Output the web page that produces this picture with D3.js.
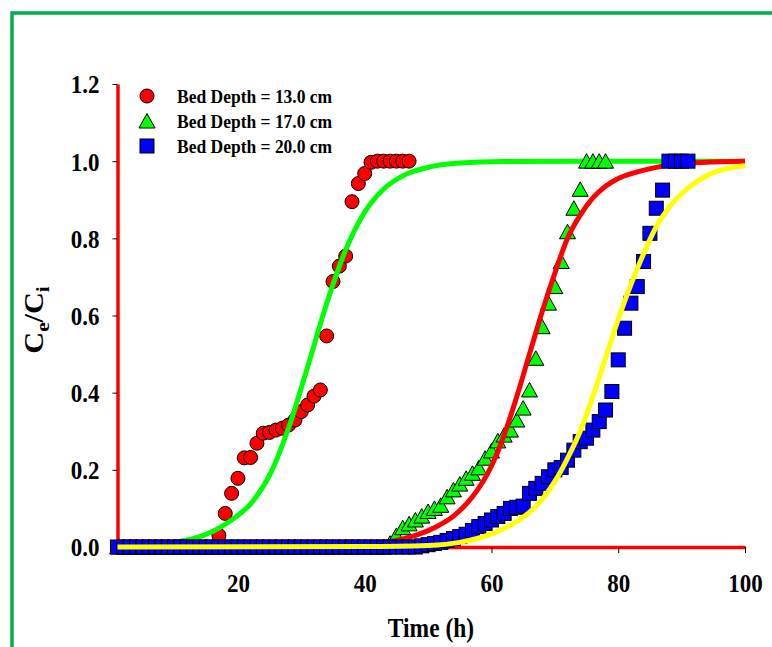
<!DOCTYPE html>
<html>
<head>
<meta charset="utf-8">
<script src="https://cdn.jsdelivr.net/npm/d3@7"></script>
<style>
  html, body { margin: 0; padding: 0; background: #fff; }
  svg { display: block; }
  text { font-family: "Liberation Serif", "Times New Roman", serif; font-weight: bold; fill: #000; }
</style>
</head>
<body>
<svg id="chart" width="772" height="647"></svg>
<script>
// hourly readings of Ce/Ci, first value at t = 1 h
const bed13 = [0, 0, 0, 0, 0, 0, 0, 0, 0, 0, 0, 0, 0, 0, 0, 0,
  0.03, 0.087, 0.139, 0.178, 0.231, 0.232, 0.269, 0.295, 0.297, 0.303, 0.308, 0.316,
  0.329, 0.351, 0.368, 0.391, 0.407, 0.547, 0.688, 0.728, 0.754, 0.895, 0.942, 0.968,
  0.997, 1.0, 1.0, 1.0, 1.0, 1.0, 1.0];

const bed17 = [0, 0, 0, 0, 0, 0, 0, 0, 0, 0, 0, 0, 0, 0, 0, 0, 0, 0, 0, 0,
  0, 0, 0, 0, 0, 0, 0, 0, 0, 0, 0, 0, 0, 0, 0, 0, 0, 0, 0, 0, 0, 0, 0,
  0.01, 0.03, 0.05, 0.06, 0.07, 0.08, 0.092, 0.1, 0.108, 0.13, 0.148, 0.163, 0.178,
  0.191, 0.205, 0.23, 0.249, 0.275, 0.29, 0.303, 0.329, 0.36, 0.407, 0.489, 0.571,
  0.632, 0.675, 0.74, 0.817, 0.878, 0.927, 1.0, 1.0, 1.0, 1.0];

const bed20 = [0, 0, 0, 0, 0, 0, 0, 0, 0, 0, 0, 0, 0, 0, 0, 0, 0, 0, 0, 0,
  0, 0, 0, 0, 0, 0, 0, 0, 0, 0, 0, 0, 0, 0, 0, 0, 0, 0, 0, 0, 0, 0, 0, 0, 0, 0, 0, 0,
  0.003, 0.006, 0.009, 0.012, 0.017, 0.022, 0.027, 0.033, 0.043, 0.053, 0.061, 0.07,
  0.079, 0.087, 0.1, 0.103, 0.106, 0.139, 0.152, 0.165, 0.182, 0.2, 0.206, 0.225,
  0.251, 0.273, 0.282, 0.303, 0.325, 0.355, 0.403, 0.485, 0.567, 0.632, 0.675, 0.74,
  0.813, 0.878, 0.925, 1.0, 1.0, 1.0, 1.0];

// fitted curves: [time, Ce/Ci]
const fit13 = [[1, 0.002], [6, 0.005], [10, 0.012], [13, 0.022], [16, 0.04], [19, 0.07],
  [22, 0.112], [25, 0.186], [28, 0.309], [31, 0.467], [34, 0.631], [37, 0.77],
  [40, 0.868], [43, 0.928], [46, 0.962], [50, 0.984], [55, 0.995], [62, 0.999],
  [75, 1.0], [100, 1.0]];

const fit17 = [[1, 0.0], [30, 0.001], [40, 0.006], [45, 0.017], [48, 0.03], [51, 0.05],
  [54, 0.08], [57, 0.13], [60, 0.21], [62, 0.29], [64, 0.39], [66, 0.5], [68, 0.61],
  [70, 0.71], [72, 0.8], [74, 0.86], [76, 0.905], [78, 0.935], [80, 0.955], [83, 0.972],
  [86, 0.984], [90, 0.993], [95, 0.998], [100, 1.0]];

const fit20 = [[1, 0.0], [40, 0.001], [50, 0.004], [55, 0.012], [60, 0.034], [64, 0.066],
  [67, 0.105], [70, 0.17], [72, 0.23], [74, 0.3], [76, 0.39], [78, 0.49], [80, 0.59],
  [82, 0.68], [84, 0.76], [86, 0.83], [88, 0.88], [91, 0.93], [94, 0.963], [97, 0.98],
  [100, 0.988]];

const xTicks = [20, 40, 60, 80, 100];
const yTicks = [0, 0.2, 0.4, 0.6, 0.8, 1.0, 1.2];
const legendLabels = ['Bed Depth = 13.0 cm', 'Bed Depth = 17.0 cm', 'Bed Depth = 20.0 cm'];

const svg = d3.select('#chart');
const stretchY = 'scale(1,1.12)';

// outer green frame
svg.append('rect')
  .attr('x', 12).attr('y', 13)
  .attr('width', 800).attr('height', 700)
  .attr('fill', 'none')
  .attr('stroke', '#00b050')
  .attr('stroke-width', 3.5);

const x = d3.scaleLinear().domain([1, 100]).range([117.5, 745]);
const y = d3.scaleLinear().domain([0, 1.2]).range([547, 84]);

// axes
const xAxis = svg.append('g')
  .attr('transform', `translate(0,${y(0)})`)
  .call(d3.axisBottom(x).tickValues(xTicks).tickSize(6).tickSizeOuter(0));

const yAxis = svg.append('g')
  .attr('transform', `translate(${x(1)},0)`)
  .call(d3.axisLeft(y).tickValues(yTicks).tickFormat(d3.format('.1f')).tickSize(5).tickSizeOuter(0).tickPadding(13));

[xAxis, yAxis].forEach(g => {
  g.select('.domain').attr('stroke', '#ff0000').attr('stroke-width', 3.5);
  g.selectAll('.tick line').attr('stroke', '#000').attr('stroke-width', 1);
  g.selectAll('.tick text')
    .style('font-family', '"Liberation Serif", serif')
    .style('font-weight', 'bold')
    .style('font-size', '23px')
    .attr('fill', '#000');
});

xAxis.selectAll('.tick text').attr('dy', null).attr('y', 40).attr('transform', stretchY);
yAxis.selectAll('.tick text').attr('dy', null).attr('y', 8).attr('transform', stretchY);

// axis titles
svg.append('text')
  .attr('transform', `translate(431,637) ${stretchY}`)
  .attr('text-anchor', 'middle')
  .style('font-size', '23.5px')
  .text('Time (h)');

const yTitle = svg.append('text')
  .attr('transform', `translate(43,320) ${stretchY} rotate(-90)`)
  .attr('text-anchor', 'middle')
  .style('font-size', '27px');
yTitle.append('tspan').text('C');
yTitle.append('tspan').attr('dy', 6).style('font-size', '19px').text('e');
yTitle.append('tspan').attr('dy', -6).text('/C');
yTitle.append('tspan').attr('dy', 6).style('font-size', '19px').text('i');

// symbol shapes
const trianglePath = 'M0,-7.5L8,7L-8,7Z';

function drawCircles(values) {
  svg.append('g').selectAll('circle')
    .data(values)
    .join('circle')
    .attr('cx', (d, i) => x(i + 1))
    .attr('cy', d => y(d))
    .attr('r', 7)
    .attr('fill', '#ff0000')
    .attr('stroke', '#000')
    .attr('stroke-width', 1);
}

function drawTriangles(values) {
  svg.append('g').selectAll('path')
    .data(values)
    .join('path')
    .attr('d', trianglePath)
    .attr('transform', (d, i) => `translate(${x(i + 1)},${y(d)})`)
    .attr('fill', '#00ff00')
    .attr('stroke', '#000')
    .attr('stroke-width', 1);
}

function drawSquares(values) {
  svg.append('g').selectAll('rect')
    .data(values)
    .join('rect')
    .attr('x', (d, i) => x(i + 1) - 7)
    .attr('y', d => y(d) - 7)
    .attr('width', 14)
    .attr('height', 14)
    .attr('fill', '#0000ff')
    .attr('stroke', '#000')
    .attr('stroke-width', 1);
}

const line = d3.line()
  .x(d => x(d[0]))
  .y(d => y(d[1]))
  .curve(d3.curveMonotoneX);

function drawFit(points, color) {
  svg.append('path')
    .datum(points)
    .attr('d', line)
    .attr('fill', 'none')
    .attr('stroke', color)
    .attr('stroke-width', 5);
}

// same stacking order as the original plot
drawCircles(bed13);
drawFit(fit13, '#00ff00');
drawTriangles(bed17);
drawFit(fit17, '#ff0000');
drawSquares(bed20);
drawFit(fit20, '#ffff00');

// legend
const legendRows = [96, 121, 146];
const legend = svg.append('g');
legend.append('circle')
  .attr('cx', 147).attr('cy', legendRows[0]).attr('r', 7)
  .attr('fill', '#ff0000').attr('stroke', '#000');
legend.append('path')
  .attr('d', trianglePath)
  .attr('transform', `translate(147,${legendRows[1]})`)
  .attr('fill', '#00ff00').attr('stroke', '#000');
legend.append('rect')
  .attr('x', 140).attr('y', legendRows[2] - 7).attr('width', 14).attr('height', 14)
  .attr('fill', '#0000ff').attr('stroke', '#000');

legend.selectAll('text')
  .data(legendLabels)
  .join('text')
  .attr('transform', (d, i) => `translate(177,${legendRows[i] + 7}) ${stretchY}`)
  .style('font-size', '17.5px')
  .text(d => d);
</script>
</body>
</html>
